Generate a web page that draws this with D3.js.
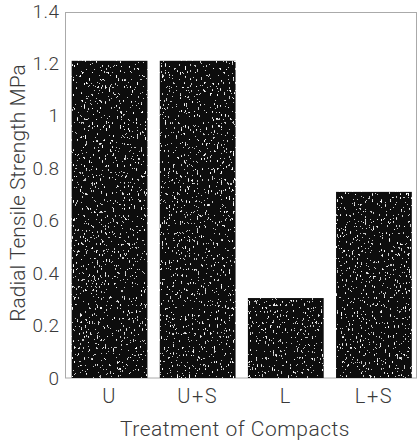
<!DOCTYPE html>
<html>
<head>
<meta charset="utf-8">
<script src="https://cdn.jsdelivr.net/npm/d3@7"></script>
<style>
  body{margin:0;background:#fff;}
  svg{display:block;}
  text{font-family:Roboto,"Liberation Sans",Arial,sans-serif;font-weight:300;fill:#3a3a3a;}
</style>
</head>
<body>
<div class="chart"></div>
<script>
// values
var categories=["U","U+S","L","L+S"];
var strength=[1.21,1.21,0.305,0.71];
var yTicks=[0,0.2,0.4,0.6,0.8,1,1.2,1.4];
var yTitle="Radial Tensile Strength MPa";
var xTitle="Treatment of Compacts";

var W=418,H=444;
var plotLeft=65.5,plotRight=416.5,plotTop=12.5,plotBottom=378;

var svg=d3.select('.chart').append('svg')
    .attr('width',W)
    .attr('height',H);

// speckled print texture for the bars
var defs=svg.append('defs');
var f=defs.append('filter').attr('id','speck')
    .attr('x',0).attr('y',0).attr('width',1).attr('height',1);
f.append('feTurbulence')
    .attr('type','fractalNoise')
    .attr('baseFrequency','0.75 0.28')
    .attr('numOctaves',2)
    .attr('seed',11)
    .attr('result','n');
f.append('feColorMatrix').attr('in','n').attr('type','matrix')
    .attr('values','0 0 0 0 1  0 0 0 0 1  0 0 0 0 1  1.8 0 0 0 -0.45')
    .attr('result','w');
var ct=f.append('feComponentTransfer').attr('in','w').attr('result','dots');
ct.append('feFuncA').attr('type','discrete').attr('tableValues','0 0 0 0 0 0 0 0.55 0.95');
f.append('feComposite').attr('in','dots').attr('in2','SourceGraphic').attr('operator','atop');

var x=d3.scaleBand()
    .domain(categories)
    .range([plotLeft,W])
    .paddingInner(0.14)
    .paddingOuter(0.07);

var y=d3.scaleLinear()
    .domain([0,1.4])
    .range([plotBottom,plotTop-1.5]);

// frame
svg.append('rect')
    .attr('x',plotLeft).attr('y',plotTop)
    .attr('width',plotRight-plotLeft).attr('height',plotBottom-plotTop)
    .attr('fill','none')
    .attr('stroke','#aaa')
    .attr('stroke-width',1);

svg.selectAll('rect.bar').data(strength)
    .enter().append('rect')
        .attr('class','bar')
        .attr('x',function(d,i){return x(categories[i]);})
        .attr('y',function(d){return y(d);})
        .attr('width',x.bandwidth())
        .attr('height',function(d){return y(0)-y(d);})
        .attr('fill','#111')
        .attr('filter','url(#speck)');

var yAxis=svg.append('g')
    .attr('transform','translate('+plotLeft+',0)')
    .call(d3.axisLeft(y).tickValues(yTicks).tickSize(0).tickPadding(6)
        .tickFormat(function(d){return d3.format('')(+d.toFixed(1));}));
yAxis.select('.domain').remove();
yAxis.selectAll('text').style('font-size','19px').style('letter-spacing','0.5px').attr('fill','#444');

var xAxis=svg.append('g')
    .attr('transform','translate(0,'+plotBottom+')')
    .call(d3.axisBottom(x).tickSize(0).tickPadding(10.5));
xAxis.select('.domain').remove();
xAxis.selectAll('text').style('font-size','20px').style('letter-spacing','1.5px').attr('fill','#444');

svg.append('text')
    .attr('x',(plotLeft+plotRight)/2-6)
    .attr('y',436)
    .attr('text-anchor','middle')
    .style('font-size','21px')
    .style('letter-spacing','0.5px')
    .text(xTitle);

svg.append('text')
    .attr('transform','translate(25,193) rotate(-90)')
    .attr('text-anchor','middle')
    .style('font-size','21px')
    .text(yTitle);
</script>
</body>
</html>
